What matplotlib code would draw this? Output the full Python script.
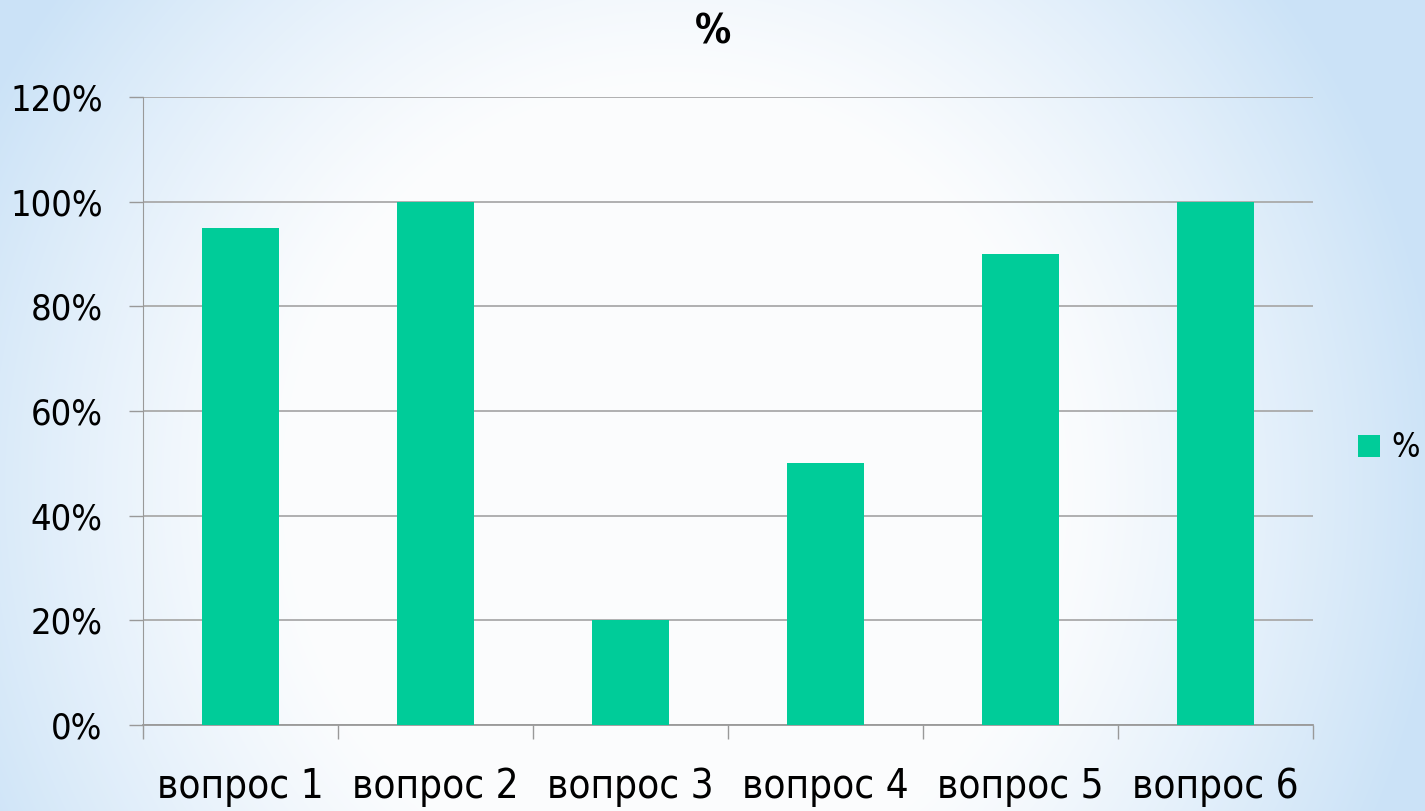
import numpy as np
import matplotlib
matplotlib.use("Agg")
import matplotlib.pyplot as plt
from matplotlib.patches import Patch
from matplotlib import font_manager as fm

categories = ["вопрос 1", "вопрос 2", "вопрос 3", "вопрос 4", "вопрос 5", "вопрос 6"]
values = [95, 100, 20, 50, 90, 100]
yticks = [0, 20, 40, 60, 80, 100, 120]
series_name = "%"
title = "%"

fam = 'DejaVu Sans'
stretch = 'normal'
if any('Condensed' in f.fname and 'DejaVuSans' in f.fname for f in fm.fontManager.ttflist):
    stretch = 'condensed'
plt.rcParams['font.family'] = [fam]
plt.rcParams['font.stretch'] = stretch
FS = 29 if stretch == 'condensed' else 26
FSY = 26 if stretch == 'condensed' else 23

W, H = 1425, 811
fig = plt.figure(figsize=(W / 100, H / 100), dpi=100)

# background gradient
bg = fig.add_axes([0, 0, 1, 1], zorder=-10)
yy, xx = np.mgrid[0:H, 0:W]
cx, cy = 0.47 * W, 0.6 * H
r = np.sqrt(((xx - cx) / (0.6 * W)) ** 2 + ((yy - cy) / (1.1 * H)) ** 2)
t = np.clip((r - 0.45) / 0.45, 0, 1) ** 1.2
c_in = np.array([0.985, 0.99, 0.995])
c_out = np.array([0.80, 0.89, 0.97])
img = c_in[None, None, :] * (1 - t[..., None]) + c_out[None, None, :] * t[..., None]
bg.imshow(img, aspect='auto', extent=[0, 1, 0, 1], origin='upper')
bg.axis('off')

ax = fig.add_axes([143 / W, 1 - 725 / H, (1313 - 143) / W, (725 - 97) / H])
ax.patch.set_alpha(0)
x = np.arange(len(categories))
ax.bar(x, values, width=0.395, color='#00CC99', zorder=3, label=series_name)
ax.set_xlim(-0.5, len(categories) - 0.5)
ax.set_ylim(0, 120)
ax.set_yticks(yticks)
ax.set_yticklabels([f"{v}%" for v in yticks])
ax.set_xticks(np.arange(len(categories) + 1) - 0.5, minor=False)
ax.set_xticklabels([])
ax.set_xticks(x, minor=True)
ax.set_xticklabels(categories, minor=True)
ax.tick_params(axis='x', which='minor', length=0, pad=30, labelsize=FS)
ax.tick_params(axis='x', which='major', length=10, width=1, color='#999999', direction='out')
ax.tick_params(axis='y', length=10, width=1, color='#999999', direction='out', pad=19, labelsize=FSY)
ax.grid(axis='y', color='#aaaaaa', linewidth=1.3, zorder=0)
for s in ['top', 'right']:
    ax.spines[s].set_visible(False)
ax.spines['left'].set_color('#999999')
ax.spines['bottom'].set_color('#999999')
ax.spines['bottom'].set_linewidth(1.3)

fig.text(713 / W, 1 - 33 / H, title, ha='center', va='center', fontsize=FS, fontweight='bold')

handles = [Patch(facecolor='#00CC99', label=series_name)]
fig.legend(handles=handles, loc='center left', bbox_to_anchor=(1358 / W, 1 - 448 / H),
           frameon=False, fontsize=FSY - 2, handlelength=0.65, handleheight=0.65,
           handletextpad=0.35, borderpad=0, borderaxespad=0)

fig.savefig("out.png", dpi=100)
